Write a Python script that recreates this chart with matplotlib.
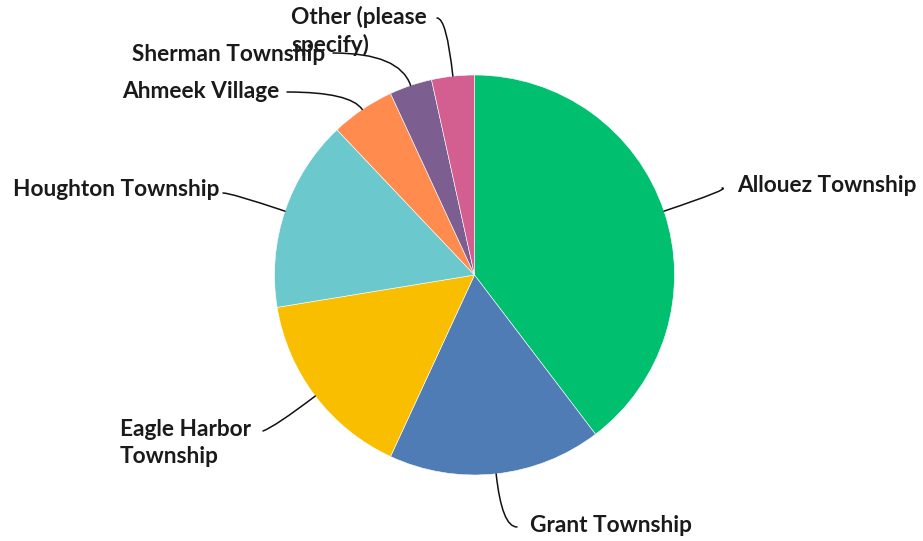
# Pie of responses by township, with curved leader lines to each label

import numpy as np
import matplotlib.pyplot as plt

plt.rcParams['font.family'] = ['Lato', 'DejaVu Sans']

labels = ['Allouez Township', 'Grant Township', 'Eagle Harbor\nTownship',
          'Houghton Township', 'Ahmeek Village', 'Sherman Township',
          'Other (please\nspecify)']
counts = [23, 10, 9, 9, 3, 2, 2]
colors = ['#00BF6F', '#507CB6', '#F9BE00', '#6BC8CD', '#FF8B4F', '#7D5E90', '#D25F90']

# where each label sits (pixels from top-left), and which side it hangs from
label_pos = [(737, 186), (530, 526), (120, 443), (219, 190), (279, 92), (325, 55), (291, 31)]
label_ha = ['left', 'left', 'left', 'right', 'right', 'right', 'left']
line_end = [(722, 188), (517, 527), (263, 431), (223, 193), (287, 92), (333, 53), (437, 18)]
line_bend = [0, 0, 20, 0, 0, 0, 0]

W, H = 923, 541
CX, CY, R = 474.5, 275, 200


def px(x, y):
    # pixel position -> data position (pie radius is 1)
    return (x - CX) / R, (CY - y) / R


fig = plt.figure(figsize=(W / 100, H / 100), dpi=100)
ax = fig.add_axes([0, 0, 1, 1])

wedges, _ = ax.pie(counts, colors=colors, startangle=90, counterclock=False,
                   radius=1, center=(0, 0),
                   wedgeprops=dict(edgecolor='white', linewidth=0.4))

ax.set_aspect('auto')
ax.set_xlim(-CX / R, (W - CX) / R)
ax.set_ylim(-(H - CY) / R, CY / R)
ax.axis('off')

for i, w in enumerate(wedges):
    mid = np.deg2rad((w.theta1 + w.theta2) / 2)
    edge = (np.cos(mid), np.sin(mid))
    ang = np.rad2deg(mid)
    ax.annotate('', xy=edge, xytext=px(*line_end[i]),
                arrowprops=dict(arrowstyle='-', color='#111111', lw=1.1,
                                shrinkA=0, shrinkB=0,
                                connectionstyle='angle3,angleA=%d,angleB=%.1f' % (line_bend[i], ang)))
    tx, ty = px(*label_pos[i])
    ax.text(tx, ty, labels[i], ha=label_ha[i], va='center', multialignment='left',
            fontsize=16.3, fontweight='bold', color='#1a1a1a', linespacing=1.3)

fig.savefig('out.png', dpi=100)
